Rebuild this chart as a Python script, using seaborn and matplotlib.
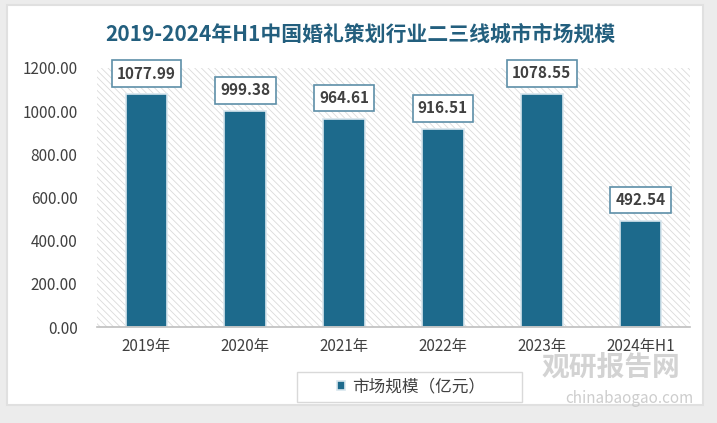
import matplotlib
matplotlib.use("Agg")
import matplotlib.pyplot as plt
import seaborn as sns
import pandas as pd
from matplotlib.patches import Rectangle, FancyBboxPatch

years = ["2019年", "2020年", "2021年", "2022年", "2023年", "2024年H1"]
market_size = [1077.99, 999.38, 964.61, 916.51, 1078.55, 492.54]
y_ticks = [0, 200, 400, 600, 800, 1000, 1200]
series_name = "市场规模（亿元）"
title = "2019-2024年H1中国婚礼策划行业二三线城市市场规模"

bar_color = "#1d6a8c"
W, H = 717, 423

sns.set_theme(style="white")
plt.rcParams['font.family'] = ['Noto Sans CJK SC', 'DejaVu Sans']
plt.rcParams['hatch.linewidth'] = 0.6

fig = plt.figure(figsize=(W / 100, H / 100), dpi=100)
fig.patch.set_facecolor("#ececec")

# white card behind everything
card = FancyBboxPatch((7 / W, 1 - 405 / H), 696 / W, 400 / H,
                      boxstyle="square,pad=0", transform=fig.transFigure,
                      facecolor="white", edgecolor="#e0e0e0", linewidth=1.5, zorder=-5)
fig.patches.append(card)

ax = fig.add_axes([97 / W, 1 - 327 / H, 593 / W, 259 / H])
ax.set_facecolor("none")

df = pd.DataFrame({"year": years, "value": market_size})
sns.barplot(data=df, x="year", y="value", color=bar_color, width=0.42,
            edgecolor="#d8e6ee", linewidth=1.2, saturation=1,
            label=series_name, ax=ax, zorder=3)

# hatched plot background
bg = Rectangle((0, 0), 1, 1, transform=ax.transAxes, facecolor="white",
               edgecolor="#dadada", hatch="\\\\\\\\\\", linewidth=0, zorder=0)
ax.add_patch(bg)

ax.set_ylim(0, 1200)
ax.set_xlim(-0.5, len(years) - 0.5)
ax.set_yticks(y_ticks)
ax.set_yticklabels([f"{v:.2f}" for v in y_ticks], fontsize=11, color="#404040")
ax.tick_params(axis="x", labelsize=11, labelcolor="#404040", pad=8, length=0)
ax.tick_params(axis="y", length=0, pad=14)
ax.set_xlabel("")
ax.set_ylabel("")

for side in ["top", "right", "left"]:
    ax.spines[side].set_visible(False)
ax.spines["bottom"].set_color("#bfbfbf")
ax.spines["bottom"].set_linewidth(1.2)
ax.spines["bottom"].set_zorder(4)

# value labels in boxes
for i, v in enumerate(market_size):
    ax.annotate(f"{v:.2f}", (i, v), xytext=(0, 15), textcoords="offset points",
                ha="center", va="center", fontsize=11, fontweight="bold",
                color="#404040", zorder=5,
                bbox=dict(boxstyle="square,pad=0.35", facecolor="white",
                          edgecolor="#5d8fa8", linewidth=1.2))

fig.text(360 / W, 1 - 34 / H, title, ha="center", va="center",
         fontsize=15, fontweight="bold", color="#235f7e")

# legend: frameless legend inside a wider hand-drawn box
leg_box = Rectangle((297 / W, 1 - 402 / H), 225 / W, 30 / H, transform=fig.transFigure,
                    facecolor="white", edgecolor="#d9d9d9", linewidth=1.0, zorder=-2)
fig.patches.append(leg_box)
leg = ax.legend(loc="center", bbox_to_anchor=(411 / W, 1 - 387 / H),
                bbox_transform=fig.transFigure, frameon=False, fontsize=12,
                handlelength=0.5, handleheight=0.5, handletextpad=0.4,
                borderpad=0, borderaxespad=0)
for t in leg.get_texts():
    t.set_color("#404040")

# watermark
fig.text(680 / W, 1 - 368 / H, "观研报告网", ha="right", va="center",
         fontsize=20, fontweight="bold", color="#c8c8c8", alpha=0.8)
fig.text(693 / W, 1 - 398 / H, "chinabaogao.com", ha="right", va="center",
         fontsize=11, color="#c8c8c8", alpha=0.9)

fig.savefig("out.png", dpi=100, facecolor=fig.get_facecolor())
